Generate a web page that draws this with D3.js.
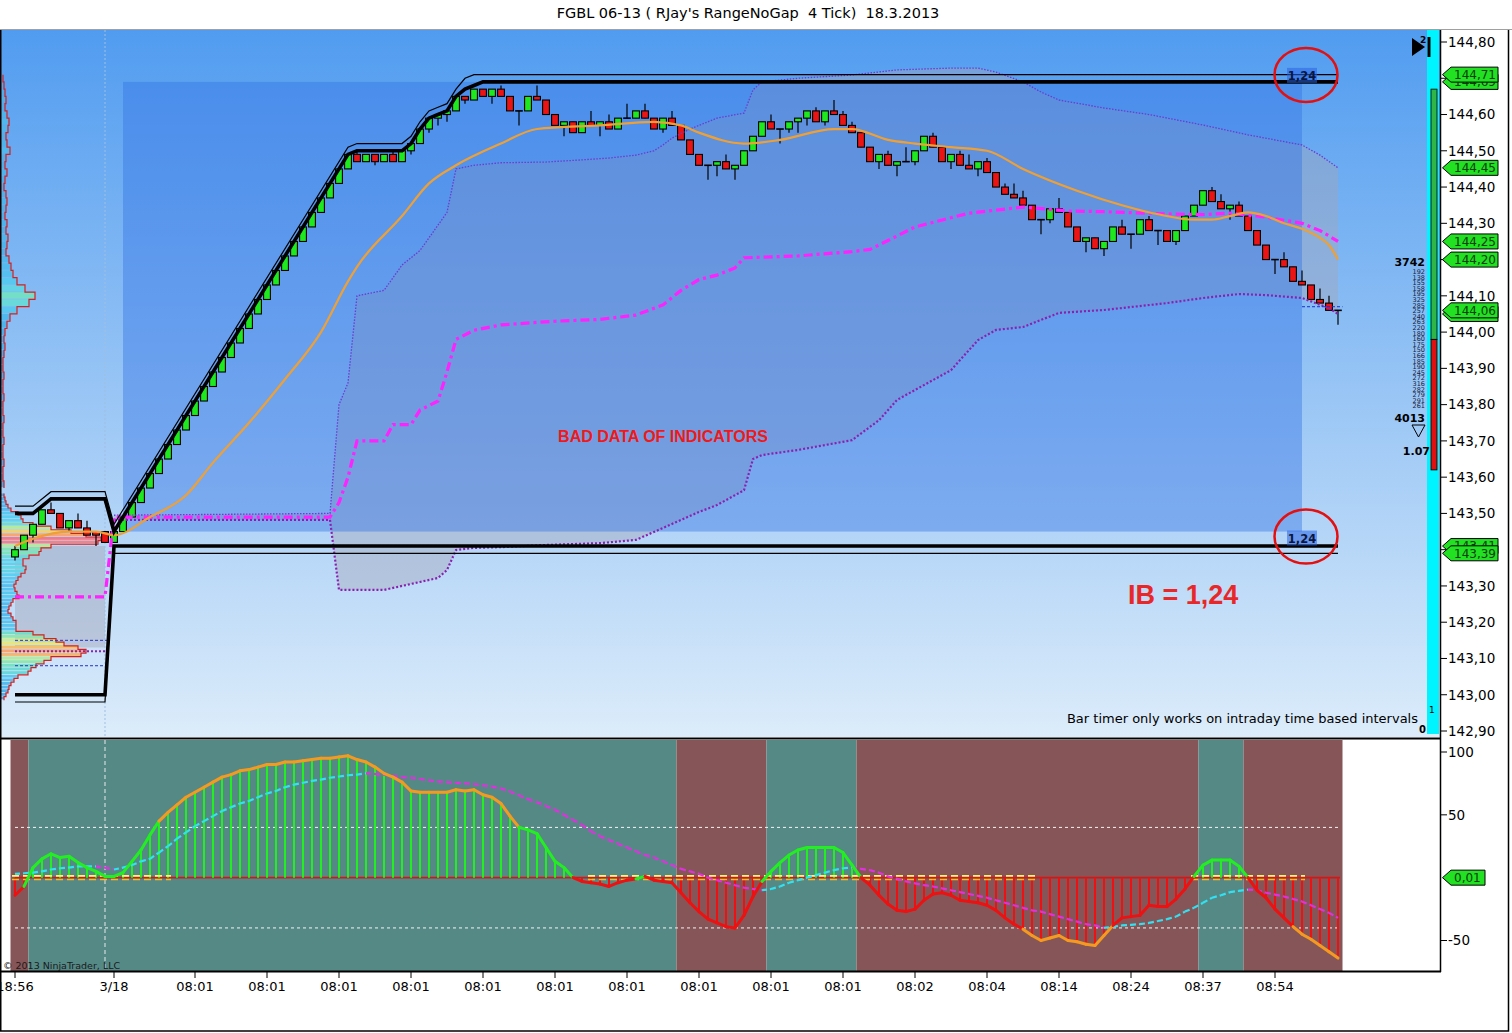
<!DOCTYPE html>
<html>
<head>
<meta charset="utf-8">
<script src="https://cdn.jsdelivr.net/npm/d3@7"></script>
<style>
body { margin: 0; background: #fff; }
svg { display: block; font-family: "DejaVu Sans", Verdana, sans-serif; }
</style>
</head>
<body>
<svg id="chart" width="1512" height="1033"></svg>
<script>
// ---------- data ----------
const chartTitle = "FGBL 06-13 ( RJay's RangeNoGap  4 Tick)  18.3.2013";

// range bars, one entry per bar
const barOpen = [
  143.38, 143.40, 143.44, 143.47, 143.51, 143.50, 143.46, 143.48, 143.46, 143.45,
  143.45, 143.42, 143.45, 143.49, 143.53, 143.57, 143.61, 143.65, 143.69, 143.73,
  143.77, 143.81, 143.85, 143.89, 143.93, 143.97, 144.01, 144.05, 144.09, 144.13,
  144.17, 144.21, 144.25, 144.29, 144.33, 144.37, 144.41, 144.45, 144.49, 144.47,
  144.49, 144.47, 144.49, 144.47, 144.50, 144.52, 144.56, 144.59, 144.60, 144.61,
  144.65, 144.64, 144.67, 144.65, 144.67, 144.65, 144.61, 144.61, 144.65, 144.64,
  144.60, 144.57, 144.58, 144.55, 144.58, 144.57, 144.58, 144.56, 144.59, 144.59,
  144.61, 144.59, 144.56, 144.59, 144.57, 144.53, 144.49, 144.46, 144.46, 144.47,
  144.45, 144.46, 144.50, 144.54, 144.58, 144.56, 144.56, 144.58, 144.59, 144.61,
  144.58, 144.61, 144.60, 144.57, 144.55, 144.51, 144.47, 144.49, 144.46, 144.47,
  144.47, 144.50, 144.54, 144.51, 144.47, 144.49, 144.46, 144.45, 144.47, 144.44,
  144.40, 144.38, 144.37, 144.35, 144.31, 144.31, 144.34, 144.33, 144.29, 144.25,
  144.26, 144.23, 144.25, 144.29, 144.27, 144.27, 144.31, 144.28, 144.28, 144.25,
  144.28, 144.32, 144.35, 144.39, 144.36, 144.34, 144.35, 144.32, 144.28, 144.24,
  144.20, 144.20, 144.18, 144.14, 144.13, 144.09, 144.08, 144.06
];
const barHigh = [
  143.41, 143.44, 143.47, 143.51, 143.53, 143.50, 143.48, 143.50, 143.48, 143.45,
  143.45, 143.45, 143.49, 143.53, 143.57, 143.61, 143.65, 143.69, 143.73, 143.77,
  143.81, 143.85, 143.89, 143.93, 143.97, 144.01, 144.05, 144.09, 144.13, 144.17,
  144.21, 144.25, 144.29, 144.33, 144.37, 144.41, 144.45, 144.49, 144.50, 144.49,
  144.49, 144.49, 144.50, 144.50, 144.52, 144.56, 144.59, 144.60, 144.61, 144.65,
  144.65, 144.67, 144.67, 144.67, 144.68, 144.65, 144.61, 144.65, 144.68, 144.64,
  144.60, 144.58, 144.58, 144.58, 144.61, 144.58, 144.60, 144.59, 144.63, 144.61,
  144.63, 144.59, 144.59, 144.61, 144.57, 144.53, 144.49, 144.46, 144.47, 144.49,
  144.46, 144.50, 144.54, 144.58, 144.60, 144.56, 144.58, 144.59, 144.61, 144.62,
  144.61, 144.64, 144.61, 144.58, 144.55, 144.51, 144.49, 144.50, 144.47, 144.51,
  144.50, 144.54, 144.55, 144.51, 144.49, 144.50, 144.49, 144.47, 144.48, 144.44,
  144.41, 144.41, 144.39, 144.35, 144.31, 144.34, 144.37, 144.33, 144.29, 144.26,
  144.26, 144.25, 144.29, 144.31, 144.27, 144.31, 144.32, 144.28, 144.28, 144.28,
  144.32, 144.35, 144.39, 144.40, 144.38, 144.35, 144.36, 144.32, 144.28, 144.24,
  144.20, 144.22, 144.18, 144.17, 144.13, 144.12, 144.10, 144.06
];
const barLow = [
  143.37, 143.40, 143.42, 143.47, 143.50, 143.46, 143.45, 143.46, 143.44, 143.41,
  143.42, 143.42, 143.45, 143.49, 143.53, 143.57, 143.61, 143.65, 143.69, 143.73,
  143.77, 143.81, 143.85, 143.89, 143.93, 143.97, 144.01, 144.05, 144.09, 144.13,
  144.17, 144.21, 144.25, 144.29, 144.33, 144.37, 144.41, 144.45, 144.47, 144.47,
  144.46, 144.47, 144.47, 144.47, 144.49, 144.52, 144.55, 144.57, 144.58, 144.61,
  144.63, 144.64, 144.65, 144.63, 144.65, 144.61, 144.57, 144.61, 144.64, 144.60,
  144.57, 144.54, 144.55, 144.55, 144.57, 144.54, 144.56, 144.56, 144.59, 144.59,
  144.59, 144.56, 144.55, 144.57, 144.53, 144.49, 144.46, 144.42, 144.43, 144.45,
  144.42, 144.46, 144.50, 144.54, 144.56, 144.52, 144.55, 144.55, 144.57, 144.58,
  144.57, 144.60, 144.57, 144.55, 144.51, 144.47, 144.45, 144.46, 144.43, 144.47,
  144.46, 144.50, 144.51, 144.47, 144.45, 144.46, 144.45, 144.43, 144.44, 144.40,
  144.38, 144.37, 144.35, 144.31, 144.27, 144.30, 144.33, 144.29, 144.25, 144.22,
  144.23, 144.21, 144.25, 144.27, 144.23, 144.27, 144.28, 144.24, 144.25, 144.24,
  144.28, 144.32, 144.35, 144.36, 144.34, 144.31, 144.32, 144.28, 144.24, 144.20,
  144.16, 144.18, 144.14, 144.13, 144.09, 144.08, 144.06, 144.02
];
const barClose = [
  143.40, 143.44, 143.47, 143.51, 143.50, 143.46, 143.48, 143.46, 143.44, 143.44,
  143.42, 143.45, 143.49, 143.53, 143.57, 143.61, 143.65, 143.69, 143.73, 143.77,
  143.81, 143.85, 143.89, 143.93, 143.97, 144.01, 144.05, 144.09, 144.13, 144.17,
  144.21, 144.25, 144.29, 144.33, 144.37, 144.41, 144.45, 144.49, 144.47, 144.49,
  144.47, 144.49, 144.47, 144.50, 144.52, 144.56, 144.59, 144.60, 144.61, 144.65,
  144.64, 144.67, 144.65, 144.67, 144.65, 144.61, 144.61, 144.65, 144.64, 144.60,
  144.57, 144.58, 144.55, 144.58, 144.57, 144.58, 144.56, 144.59, 144.59, 144.61,
  144.59, 144.56, 144.59, 144.57, 144.53, 144.49, 144.46, 144.46, 144.47, 144.45,
  144.46, 144.50, 144.54, 144.58, 144.56, 144.56, 144.58, 144.59, 144.61, 144.58,
  144.61, 144.60, 144.57, 144.55, 144.51, 144.47, 144.49, 144.46, 144.47, 144.47,
  144.50, 144.54, 144.51, 144.47, 144.49, 144.46, 144.45, 144.47, 144.44, 144.40,
  144.38, 144.37, 144.35, 144.31, 144.31, 144.34, 144.33, 144.29, 144.25, 144.26,
  144.23, 144.25, 144.29, 144.27, 144.27, 144.31, 144.28, 144.28, 144.25, 144.28,
  144.32, 144.35, 144.39, 144.36, 144.34, 144.35, 144.32, 144.28, 144.24, 144.20,
  144.20, 144.18, 144.14, 144.13, 144.09, 144.08, 144.06, 144.06
];

// overlay lines, [bar, price]
const emaPoints = [
  [0, 143.41], [2, 143.43], [6, 143.45], [9, 143.45], [11, 143.44], [15, 143.49], [19, 143.55],
  [22, 143.64], [26, 143.75], [30, 143.87], [34, 144.00], [37, 144.14], [38, 144.18], [43, 144.32],
  [46, 144.41], [49, 144.46], [54, 144.52], [58, 144.56], [65, 144.57], [71, 144.58], [74, 144.57],
  [76, 144.55], [81, 144.52], [85, 144.53], [91, 144.56], [93, 144.56], [97, 144.53], [100, 144.52],
  [104, 144.51], [108, 144.50], [112, 144.45], [118, 144.39], [123, 144.35], [127, 144.325],
  [131, 144.31], [133, 144.31], [135, 144.32], [137, 144.33], [139, 144.32], [141, 144.30],
  [143, 144.285], [145, 144.26], [146, 144.24], [147, 144.20]
];
const vwapPoints = [
  [0, 143.27], [10, 143.27], [11, 143.49], [35, 143.49], [36, 143.53], [37, 143.60], [38, 143.70],
  [41, 143.70], [42, 143.745], [44, 143.745], [45, 143.785], [47, 143.81], [48, 143.89], [49, 143.98],
  [51, 144.005], [54, 144.02], [60, 144.03], [65, 144.035], [69, 144.047], [72, 144.075], [74, 144.115],
  [76, 144.145], [78, 144.157], [80, 144.177], [81, 144.205], [87, 144.21], [93, 144.222], [95, 144.228],
  [98, 144.265], [100, 144.29], [106, 144.328], [112, 144.345], [117, 144.334], [121, 144.332],
  [128, 144.326], [132, 144.324], [135, 144.328], [139, 144.317], [143, 144.30], [145, 144.28], [147, 144.25]
];
const upperBandPoints = [
  [11, 143.495], [35, 143.50], [36, 143.80], [37, 143.86], [38, 144.10], [41, 144.115], [43, 144.185],
  [45, 144.225], [47, 144.295], [48, 144.33], [49, 144.45], [51, 144.46], [54, 144.467], [59, 144.469],
  [63, 144.475], [66, 144.48], [69, 144.488], [71, 144.50], [72, 144.516], [73, 144.535], [75, 144.56],
  [78, 144.59], [81, 144.604], [82, 144.668], [83, 144.69], [87, 144.70], [93, 144.709], [98, 144.723],
  [104, 144.728], [107, 144.728], [109, 144.717], [112, 144.69], [114, 144.662], [116, 144.64],
  [121, 144.618], [126, 144.60], [132, 144.571], [137, 144.544], [143, 144.516], [145, 144.488], [147, 144.453]
];
const lowerBandPoints = [
  [11, 143.482], [35, 143.482], [36, 143.289], [41, 143.289], [43, 143.30], [45, 143.311], [47, 143.322],
  [48, 143.344], [49, 143.399], [51, 143.405], [54, 143.407], [59, 143.413], [65, 143.418], [69, 143.427],
  [72, 143.46], [74, 143.482], [76, 143.504], [78, 143.523], [81, 143.564], [82, 143.65], [83, 143.661],
  [87, 143.675], [93, 143.702], [96, 143.757], [98, 143.813], [104, 143.895], [107, 143.978], [109, 144.006],
  [112, 144.014], [116, 144.053], [121, 144.061], [128, 144.08], [132, 144.094], [136, 144.105],
  [139, 144.102], [143, 144.094], [146, 144.066], [147, 144.05]
];
const prevBandUpper = [[0, 143.41], [10, 143.41]];
const prevBandLower = [[0, 143.13], [10, 143.13]];
const prevValueLines = [143.15, 143.08];
const prevLowerBandLine = 143.12;

const highLinePoints = [
  [0, 143.50], [2, 143.50], [4, 143.54], [10, 143.54], [11, 143.45], [12, 143.49], [37, 144.49],
  [38, 144.50], [43, 144.50], [44, 144.52], [45, 144.56], [46, 144.59], [47, 144.60], [48, 144.61],
  [49, 144.65], [50, 144.67], [51, 144.68], [52, 144.69], [147, 144.69]
];
const highThinPoints = [
  [0, 143.52], [2, 143.52], [4, 143.56], [10, 143.56], [11, 143.47], [12, 143.51], [37, 144.51],
  [38, 144.52], [43, 144.52], [44, 144.54], [45, 144.58], [46, 144.61], [47, 144.62], [48, 144.63],
  [49, 144.67], [50, 144.70], [51, 144.71], [147, 144.71]
];
const lowLinePoints = [[0, 143.00], [10, 143.00], [11, 143.41], [147, 143.41]];
const lowThinPoints = [[0, 142.98], [10, 142.98], [11, 143.39], [147, 143.39]];
const lastPriceLine = [[143, 144.07], [147.5, 144.07]];

const ibBars = [12, 143];
const ibRange = [143.45, 144.69];

// volume profiles on the left edge
const prevProfileTop = 143.55;
const prevProfileStep = 0.01;
const prevProfileVolume = [
  3, 4, 5, 7, 10, 17, 20, 22, 32, 50, 70, 85, 100, 97, 50, 40, 38, 28, 22, 22,
  25, 24, 20, 17, 15, 13, 14, 16, 18, 12, 10, 8, 7, 10, 12, 15, 15, 15, 32, 43,
  55, 63, 77, 85, 80, 50, 43, 35, 30, 27, 17, 13, 10, 8, 7, 5, 3
];
const sessProfileTop = 144.70;
const sessProfileStep = 0.02;
const sessProfileVolume = [
  2, 3, 4, 5, 4, 6, 8, 7, 5, 6, 9, 5, 4, 6, 4, 3, 5, 6, 5, 4,
  6, 5, 7, 6, 5, 8, 10, 12, 16, 24, 34, 28, 16, 9, 6, 4, 3, 4, 3, 2,
  2, 3, 2, 2, 3, 2, 2, 3, 2, 2, 3, 2, 2, 3, 2, 2, 3
];

// bid / ask ladder at the right
const buyVolume = 3742;
const sellVolume = 4013;
const deltaBar = [144.67, 143.98, 143.62];
const ladderNumbers = ["192", "138", "155", "158", "195", "325", "285", "257", "240", "263", "220", "180",
  "160", "175", "150", "166", "185", "190", "245", "272", "316", "282", "279", "291", "261"];

// oscillator panel
const oscValues = [
  -14, -7, 8, 15, 19, 16, 17, 12, 8, 5,
  1, 1, 4, 13, 22, 34, 45, 52, 58, 64,
  68, 72, 76, 80, 82, 85, 86, 88, 90, 90,
  92, 92, 93, 94, 95, 95, 96, 97, 94, 92,
  88, 83, 80, 76, 69, 68, 68, 68, 68, 70,
  69, 70, 66, 64, 59, 49, 40, 38, 35, 24,
  13, 8, 0, -3, -4, -5, -7, -4, -2, -1,
  1, -2, -3, -4, -12, -20, -27, -33, -36, -39,
  -40, -30, -15, -3, 5, 12, 18, 22, 24, 24,
  24, 24, 20, 10, 0, -6, -14, -21, -26, -27,
  -25, -18, -13, -12, -14, -18, -19, -20, -22, -26,
  -32, -37, -41, -46, -50, -48, -46, -50, -51, -53,
  -54, -46, -38, -32, -31, -30, -22, -23, -23, -17,
  -9, 1, 10, 14, 14, 14, 9, 0, -10, -16,
  -25, -32, -39, -45, -49, -54, -59, -64
];
const signalValues = [
  3, 3.5, 4, 5, 6.5, 7.5, 8, 9, 9, 9,
  8, 6.5, 8, 10, 13, 15, 20, 25, 31, 36,
  41, 45, 49, 53, 56, 59, 61, 64, 67, 69,
  72, 74, 75.5, 77, 78, 79.5, 80.5, 81.5, 82, 83,
  82.5, 82, 81, 80, 79.5, 78.5, 77.5, 76.5, 76, 75.5,
  75, 74.5, 73.5, 72.5, 71, 68.5, 65.5, 62.5, 60, 57,
  54, 50, 46, 42, 37, 33, 30, 27, 24, 21,
  18, 16, 13, 10, 7, 5, 3, 0, -2, -4,
  -6, -8, -9, -10, -9, -7, -4, -2, 0, 2,
  4, 6, 7.5, 8, 7, 6, 4, 1, -1, -3,
  -4.5, -6, -7, -8.5, -10, -11.5, -13, -14.5, -16, -18,
  -20, -22, -24, -26, -27, -29, -31, -33, -35, -37,
  -38, -40, -39, -38, -37.5, -37, -36, -34.5, -33, -31,
  -27, -24, -20, -16, -14, -11.5, -10.5, -9.5, -10, -12,
  -13.5, -15, -17, -19, -22, -25, -28, -32
];
const trendBands = [[0, 1, "down"], [2, 73, "up"], [74, 83, "down"], [84, 93, "up"],
  [94, 131, "down"], [132, 136, "up"], [137, 147, "down"]];
const zeroDashSegments = [[0, 17], [64, 113], [131, 143]];
const oscLevels = [40, -40];
const oscMarkerValue = 0.01;

// axes
const priceTicks = [142.9, 143.0, 143.1, 143.2, 143.3, 143.4, 143.5, 143.6, 143.7, 143.8, 143.9,
  144.0, 144.1, 144.2, 144.3, 144.4, 144.5, 144.6, 144.7, 144.8];
const oscTicks = [100, 50, -50];
const timeTickBars = [0, 11, 20, 28, 36, 44, 52, 60, 68, 76, 84, 92, 100, 108, 116, 124, 132, 140];
const timeTickLabels = ["18:56", "3/18", "08:01", "08:01", "08:01", "08:01", "08:01", "08:01", "08:01",
  "08:01", "08:01", "08:01", "08:02", "08:04", "08:14", "08:24", "08:37", "08:54"];
const sessionBreakBar = 10;

// ---------- drawing ----------
const svg = d3.select("#chart");
const x = d3.scaleLinear().domain([0, 147]).range([15, 1338]);
const y = d3.scaleLinear().domain([142.9, 144.8]).range([731, 42]);
const yo = d3.scaleLinear().domain([-50, 100]).range([940.5, 752]);
const ln = d3.line().x(d => x(d[0])).y(d => y(d[1]));
const smooth = d3.line().x(d => x(d[0])).y(d => y(d[1])).curve(d3.curveMonotoneX);
const fmt = v => v.toFixed(2).replace(".", ",");

function bandArea(up, lo) {
  return ln(up) + "L" + ln(lo.slice().reverse()).slice(1) + "Z";
}

const defs = svg.append("defs");
const grad = defs.append("linearGradient").attr("id", "bgGrad")
  .attr("gradientUnits", "userSpaceOnUse").attr("x1", 0).attr("y1", 30).attr("x2", 0).attr("y2", 737);
grad.append("stop").attr("offset", 0).attr("stop-color", "#519cf0");
grad.append("stop").attr("offset", 1).attr("stop-color", "#dcecfa");
defs.append("clipPath").attr("id", "clipTop").append("rect")
  .attr("x", 1).attr("y", 30).attr("width", 1439).attr("height", 707);
defs.append("clipPath").attr("id", "clipBot").append("rect")
  .attr("x", 1).attr("y", 740).attr("width", 1439).attr("height", 231);

// title
svg.append("text").attr("x", 748).attr("y", 18).attr("text-anchor", "middle")
  .attr("font-size", 14.5).style("white-space", "pre").text(chartTitle);

// price panel
const pricePane = svg.append("g").attr("clip-path", "url(#clipTop)");
pricePane.append("rect").attr("x", 1).attr("y", 30).attr("width", 1439).attr("height", 707)
  .attr("fill", "url(#bgGrad)");

pricePane.append("path").attr("d", bandArea(prevBandUpper, prevBandLower))
  .attr("fill", "rgba(165,165,182,0.45)");

pricePane.append("path").attr("d", bandArea(upperBandPoints, lowerBandPoints))
  .attr("fill", "rgba(165,165,182,0.4)");

pricePane.append("rect")
  .attr("x", x(ibBars[0])).attr("width", x(ibBars[1]) - x(ibBars[0]))
  .attr("y", y(ibRange[1])).attr("height", y(ibRange[0]) - y(ibRange[1]))
  .attr("fill", "rgba(50,115,228,0.42)");

pricePane.append("line")
  .attr("x1", x(sessionBreakBar)).attr("x2", x(sessionBreakBar)).attr("y1", 30).attr("y2", 737)
  .attr("stroke", "#9fbfe0").attr("stroke-dasharray", "2,2");

// volume profiles
const volW = d3.scaleLinear().domain([0, 100]).range([0, 100]);
const volColor = d3.scaleLinear().domain([0, 20, 40, 60, 80, 100])
  .range(["#4aa6ea", "#5cd0f2", "#7ee6b4", "#e8f07a", "#f8b46a", "#f47888"]);

function drawProfile(topPrice, step, vols) {
  const g = pricePane.append("g");
  const levels = vols.map((v, k) => ({ p: topPrice - k * step, v: v }));
  g.selectAll("rect").data(levels).join("rect")
    .attr("x", 1)
    .attr("y", d => y(d.p + step / 2))
    .attr("width", d => volW(d.v))
    .attr("height", d => Math.max(0.6, y(d.p - step / 2) - y(d.p + step / 2) - 0.8))
    .attr("fill", d => volColor(d.v));
  const outline = [];
  levels.forEach(d => {
    outline.push([1 + volW(d.v), y(d.p + step / 2)]);
    outline.push([1 + volW(d.v), y(d.p - step / 2)]);
  });
  g.append("path").attr("d", d3.line()(outline))
    .attr("fill", "none").attr("stroke", "#d42020").attr("stroke-width", 1.2);
}
drawProfile(sessProfileTop, sessProfileStep, sessProfileVolume);
drawProfile(prevProfileTop, prevProfileStep, prevProfileVolume);

prevValueLines.forEach(p => {
  pricePane.append("line").attr("x1", x(0)).attr("x2", x(sessionBreakBar) + 2)
    .attr("y1", y(p)).attr("y2", y(p))
    .attr("stroke", "#2434c8").attr("stroke-dasharray", "3,2");
});
pricePane.append("line").attr("x1", x(0)).attr("x2", x(sessionBreakBar) + 2)
  .attr("y1", y(prevLowerBandLine)).attr("y2", y(prevLowerBandLine))
  .attr("stroke", "#8a24b0").attr("stroke-width", 2).attr("stroke-dasharray", "2,2");

// candles
const bars = barOpen.map((o, i) => ({ i: i, o: o, h: barHigh[i], l: barLow[i], c: barClose[i] }));
const cg = pricePane.append("g").selectAll("g").data(bars).join("g");
cg.append("line")
  .attr("x1", d => x(d.i)).attr("x2", d => x(d.i))
  .attr("y1", d => y(d.h)).attr("y2", d => y(d.l))
  .attr("stroke", "#000").attr("stroke-width", 1.2);
cg.filter(d => d.o !== d.c).append("rect")
  .attr("x", d => x(d.i) - 3.4).attr("width", 6.8)
  .attr("y", d => y(Math.max(d.o, d.c)))
  .attr("height", d => Math.abs(y(d.o) - y(d.c)))
  .attr("fill", d => d.c > d.o ? "#1ee81e" : "#ea1414")
  .attr("stroke", "#000").attr("stroke-width", 1.1);
cg.filter(d => d.o === d.c).append("line")
  .attr("x1", d => x(d.i) - 3.8).attr("x2", d => x(d.i) + 3.8)
  .attr("y1", d => y(d.o)).attr("y2", d => y(d.o))
  .attr("stroke", "#000").attr("stroke-width", 1.6);

function drawLine(pts, color, width, dash, gen) {
  pricePane.append("path").attr("d", (gen || ln)(pts)).attr("fill", "none")
    .attr("stroke", color).attr("stroke-width", width)
    .attr("stroke-dasharray", dash || null);
}
drawLine(upperBandPoints, "#6a3cd0", 1.3, "1.5,1.5");
drawLine(lowerBandPoints, "#8a20b0", 2.2, "2,2");
drawLine(vwapPoints, "#ff22ff", 3.2, "9,4,3,4");
drawLine(emaPoints, "#eea035", 2.2, null, smooth);
drawLine(highThinPoints, "#000", 1.2);
drawLine(highLinePoints, "#000", 3.6);
drawLine(lowThinPoints, "#000", 1.2);
drawLine(lowLinePoints, "#000", 3.6);
drawLine(lastPriceLine, "#1830d0", 1, "3,2");

// IB size labels and circles
const ibSize = fmt(ibRange[1] - ibRange[0]);
const ibLabelX = x(ibBars[1]);
[[y(ibRange[1]) - 6, y(ibRange[1]) - 7], [y(ibRange[0]) + 7, y(ibRange[0]) + 5]].forEach(([ly, cy]) => {
  pricePane.append("rect").attr("x", ibLabelX - 15).attr("y", ly - 8).attr("width", 30).attr("height", 15)
    .attr("fill", "rgba(40,100,230,0.55)");
  pricePane.append("text").attr("x", ibLabelX).attr("y", ly + 4).attr("text-anchor", "middle")
    .attr("font-size", 11.5).attr("font-weight", "bold").attr("fill", "#0a1640").text(ibSize);
  pricePane.append("ellipse").attr("cx", ibLabelX + 4).attr("cy", cy).attr("rx", 31.5).attr("ry", 27)
    .attr("fill", "none").attr("stroke", "#e41010").attr("stroke-width", 2.5);
});

pricePane.append("text").attr("x", 663).attr("y", 442).attr("text-anchor", "middle")
  .attr("font-family", "Liberation Sans, Arial, sans-serif").attr("font-weight", "bold")
  .attr("font-size", 16).attr("fill", "#f01818").text("BAD DATA OF INDICATORS");
pricePane.append("text").attr("x", 1128).attr("y", 604)
  .attr("font-family", "Liberation Sans, Arial, sans-serif").attr("font-weight", "bold")
  .attr("font-size", 27).attr("fill", "#e82828").text("IB = " + ibSize);
pricePane.append("text").attr("x", 1418).attr("y", 723).attr("text-anchor", "end")
  .attr("font-size", 13).attr("fill", "#000").text("Bar timer only works on intraday time based intervals");

// bid/ask strip
pricePane.append("rect").attr("x", 1427).attr("y", 30).attr("width", 12).attr("height", 704).attr("fill", "#00f4ff");
pricePane.append("rect").attr("x", 1431).attr("y", y(deltaBar[0])).attr("width", 6)
  .attr("height", y(deltaBar[1]) - y(deltaBar[0])).attr("fill", "#2fb548").attr("stroke", "#000").attr("stroke-width", 0.8);
pricePane.append("rect").attr("x", 1431).attr("y", y(deltaBar[1])).attr("width", 6)
  .attr("height", y(deltaBar[2]) - y(deltaBar[1])).attr("fill", "#e01010").attr("stroke", "#000").attr("stroke-width", 0.8);
pricePane.append("text").attr("x", 1425).attr("y", 266).attr("text-anchor", "end")
  .attr("font-size", 11).attr("font-weight", "bold").text(buyVolume);
pricePane.append("g").selectAll("text").data(ladderNumbers).join("text")
  .attr("x", 1425).attr("y", (d, k) => 274 + k * 5.6).attr("text-anchor", "end")
  .attr("font-size", 6.5).attr("fill", "#1a1a3a").text(d => d);
pricePane.append("text").attr("x", 1425).attr("y", 422).attr("text-anchor", "end")
  .attr("font-size", 11).attr("font-weight", "bold").text(sellVolume);
pricePane.append("path").attr("d", "M1412,425L1425,425L1418.5,437Z")
  .attr("fill", "none").attr("stroke", "#000").attr("stroke-width", 1);
pricePane.append("text").attr("x", 1430).attr("y", 455).attr("text-anchor", "end")
  .attr("font-size", 11).attr("font-weight", "bold").text((sellVolume / buyVolume).toFixed(2));
pricePane.append("text").attr("x", 1429).attr("y", 713).attr("font-size", 9).text("1");
pricePane.append("text").attr("x", 1419).attr("y", 733).attr("font-size", 10).attr("font-weight", "bold").text("0");
pricePane.append("path").attr("d", "M1412,38L1425,47L1412,56Z").attr("fill", "#000");
pricePane.append("text").attr("x", 1420).attr("y", 43).attr("font-size", 9).attr("font-weight", "bold").text("2");
pricePane.append("rect").attr("x", 1427.5).attr("y", 37).attr("width", 3).attr("height", 20).attr("fill", "#000");

// oscillator panel
const oscPane = svg.append("g").attr("clip-path", "url(#clipBot)");
oscPane.append("rect").attr("x", 1).attr("y", 740).attr("width", 1439).attr("height", 231).attr("fill", "#fff");
oscPane.selectAll("rect.trend").data(trendBands).join("rect").attr("class", "trend")
  .attr("x", d => x(d[0]) - 4.5).attr("width", d => x(d[1]) - x(d[0]) + 9)
  .attr("y", 740).attr("height", 231)
  .attr("fill", d => d[2] === "up" ? "#558986" : "#865557");
oscPane.selectAll("line.lvl").data(oscLevels).join("line").attr("class", "lvl")
  .attr("x1", x(0)).attr("x2", x(147) + 2).attr("y1", d => yo(d)).attr("y2", d => yo(d))
  .attr("stroke", "#f4f4f4").attr("stroke-width", 1).attr("stroke-dasharray", "3,3");
oscPane.append("line").attr("x1", x(sessionBreakBar)).attr("x2", x(sessionBreakBar))
  .attr("y1", 740).attr("y2", 971).attr("stroke", "#e8e8e8").attr("stroke-dasharray", "4,3");
oscPane.append("line").attr("x1", x(0)).attr("x2", x(147) + 2).attr("y1", yo(0)).attr("y2", yo(0))
  .attr("stroke", "#d01818").attr("stroke-width", 1.6);

oscPane.append("g").selectAll("line").data(oscValues).join("line")
  .attr("x1", (d, i) => x(i)).attr("x2", (d, i) => x(i))
  .attr("y1", yo(0)).attr("y2", d => yo(d))
  .attr("stroke", d => d >= 0 ? "#22ee22" : "#ee1111").attr("stroke-width", 2);

zeroDashSegments.forEach(([a, b]) => {
  [-1.8, 1.8].forEach((off, k) => {
    oscPane.append("line").attr("x1", x(a) - 3).attr("x2", x(b) + 3)
      .attr("y1", yo(0) + off).attr("y2", yo(0) + off)
      .attr("stroke", k === 0 ? "#fff27a" : "#f0c020").attr("stroke-width", 1.6)
      .attr("stroke-dasharray", "7,4");
  });
});

const sigPairs = d3.pairs(signalValues.map((v, i) => [i, v]));
oscPane.append("g").selectAll("line").data(sigPairs).join("line")
  .attr("x1", d => x(d[0][0])).attr("x2", d => x(d[1][0]))
  .attr("y1", d => yo(d[0][1])).attr("y2", d => yo(d[1][1]))
  .attr("stroke", d => d[1][1] >= d[0][1] ? "#30e2f2" : "#e030e0")
  .attr("stroke-width", 2.2).attr("stroke-dasharray", "5,3");

const oscPairs = d3.pairs(oscValues.map((v, i) => [i, v]));
oscPane.append("g").selectAll("line").data(oscPairs).join("line")
  .attr("x1", d => x(d[0][0])).attr("x2", d => x(d[1][0]))
  .attr("y1", d => yo(d[0][1])).attr("y2", d => yo(d[1][1]))
  .attr("stroke", d => {
    const m = (d[0][1] + d[1][1]) / 2;
    if (m > 40 || m < -40) return "#f59a20";
    return m >= 0 ? "#22ee22" : "#ee1111";
  })
  .attr("stroke-width", 3).attr("stroke-linecap", "round");

oscPane.append("text").attr("x", 3).attr("y", 969).attr("font-size", 9.5).attr("fill", "#1a1a1a")
  .text("\u00a9 2013 NinjaTrader, LLC");

// frame and separators
svg.append("line").attr("x1", 0).attr("x2", 1512).attr("y1", 29.5).attr("y2", 29.5).attr("stroke", "#a0a0a0");
svg.append("path").attr("d", "M0.75,30V1031H1508.5V30").attr("fill", "none").attr("stroke", "#000").attr("stroke-width", 1.5);
svg.append("line").attr("x1", 0).attr("x2", 1441).attr("y1", 738.5).attr("y2", 738.5).attr("stroke", "#000").attr("stroke-width", 2);
svg.append("line").attr("x1", 0).attr("x2", 1441).attr("y1", 971.5).attr("y2", 971.5).attr("stroke", "#000").attr("stroke-width", 2);
svg.append("line").attr("x1", 1440.5).attr("x2", 1440.5).attr("y1", 30).attr("y2", 972).attr("stroke", "#000").attr("stroke-width", 1.5);

// right price axis
const yAxisG = svg.append("g");
yAxisG.selectAll("line").data(priceTicks).join("line")
  .attr("x1", 1441).attr("x2", 1447).attr("y1", d => y(d)).attr("y2", d => y(d)).attr("stroke", "#000");
yAxisG.selectAll("text").data(priceTicks).join("text")
  .attr("x", 1448).attr("y", d => y(d)).attr("dy", "0.36em").attr("font-size", 13.5).text(d => fmt(d));

const oscAxisG = svg.append("g");
oscAxisG.selectAll("line").data(oscTicks).join("line")
  .attr("x1", 1441).attr("x2", 1447).attr("y1", d => yo(d)).attr("y2", d => yo(d)).attr("stroke", "#000");
oscAxisG.selectAll("text").data(oscTicks).join("text")
  .attr("x", 1448).attr("y", d => yo(d)).attr("dy", "0.36em").attr("font-size", 13.5).text(d => d);

function marker(py, label, right) {
  const g = svg.append("g");
  g.append("path")
    .attr("d", `M1442.5,${py}L1451,${py - 7.5}H${right}V${py + 7.5}H1451Z`)
    .attr("fill", "#22e022").attr("stroke", "#000").attr("stroke-width", 1);
  g.append("text").attr("x", 1454).attr("y", py).attr("dy", "0.37em")
    .attr("font-size", 12).attr("fill", "#0b3d0b").text(label);
}
const last = a => a[a.length - 1][1];
[
  last(highLinePoints), last(highThinPoints), last(upperBandPoints), last(vwapPoints), last(emaPoints),
  last(lowerBandPoints), barClose[barClose.length - 1], last(lowLinePoints), last(lowThinPoints)
].forEach(v => marker(y(v), fmt(v), 1498));
marker(yo(oscMarkerValue), fmt(oscMarkerValue), 1485);

// time axis
const xAxisG = svg.append("g");
xAxisG.selectAll("line").data(timeTickBars).join("line")
  .attr("x1", d => x(d)).attr("x2", d => x(d)).attr("y1", 972).attr("y2", 978).attr("stroke", "#000");
xAxisG.selectAll("text").data(timeTickBars).join("text")
  .attr("x", d => x(d)).attr("y", 991).attr("text-anchor", "middle").attr("font-size", 13)
  .text((d, k) => timeTickLabels[k]);
</script>
</body>
</html>
